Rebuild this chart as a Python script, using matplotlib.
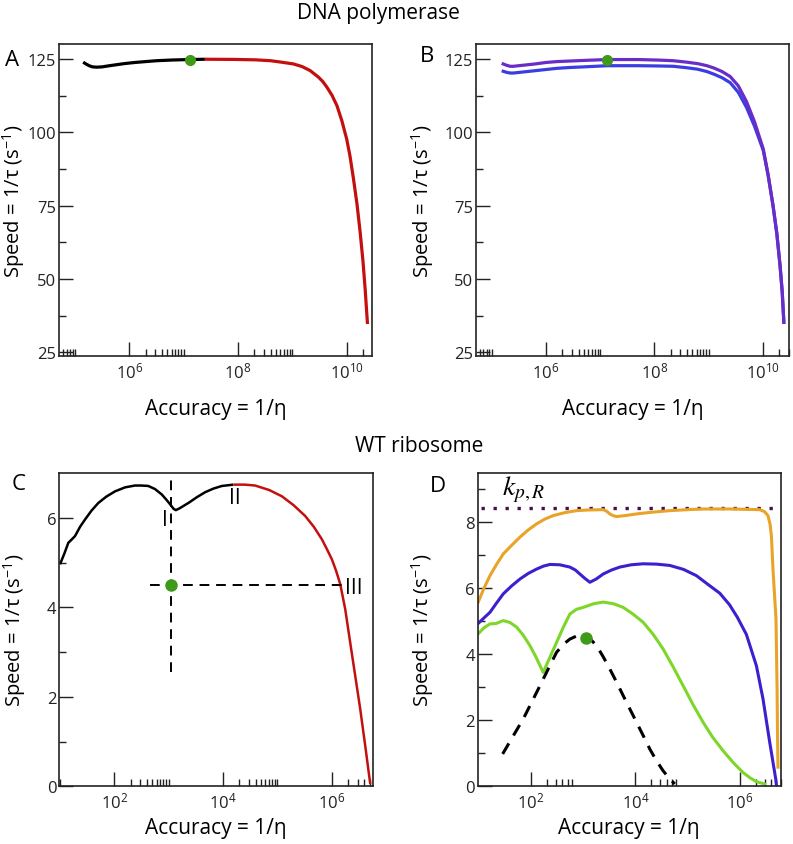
import numpy as np
import matplotlib
matplotlib.use("Agg")
import matplotlib.pyplot as plt

plt.rcParams['font.family'] = ['Open Sans', 'DejaVu Sans']
plt.rcParams['mathtext.fontset'] = 'custom'
plt.rcParams['mathtext.rm'] = 'Open Sans'
plt.rcParams['mathtext.it'] = 'Open Sans:italic'

# ---------------- data (x given as log10 of accuracy) ----------------
# panel A: DNA polymerase
a_black_lx = [5.15, 5.2, 5.26, 5.32, 5.4, 5.5, 5.6, 5.75, 5.9, 6.1, 6.3, 6.5, 6.8, 7.12, 7.39]
a_black_y = [123.9, 123.3, 122.7, 122.3, 122.2, 122.3, 122.6, 123.0, 123.4, 123.8, 124.1, 124.4, 124.65, 124.8, 124.9]
a_red_lx = [7.39, 7.9, 8.32, 8.6, 8.8, 9.02, 9.18, 9.33, 9.48, 9.56, 9.635, 9.73, 9.82, 9.91,
            10.0, 10.06, 10.125, 10.19, 10.248, 10.30, 10.34, 10.383]
a_red_y = [124.9, 124.85, 124.7, 124.4, 123.9, 123.3, 122.4, 121.0, 118.8, 117.3, 115.4, 112.6, 109.1, 104.0,
           97.7, 92.0, 84.1, 75.5, 65.9, 56.0, 46.5, 34.6]
a_dot = (7.12, 124.8)

# panel B: two variants
b_lx = [5.21, 5.28, 5.34, 5.40, 5.5, 5.65, 5.8, 6.0, 6.2, 6.45, 6.7, 7.13, 7.7, 8.1, 8.35, 8.6, 8.8, 8.97,
        9.1, 9.25, 9.4, 9.55, 9.7, 9.85, 10.01, 10.1, 10.19, 10.26, 10.32, 10.36, 10.39]
b_purple_y = [123.3, 122.8, 122.5, 122.5, 122.7, 123.0, 123.3, 123.8, 124.1, 124.3, 124.5, 124.8, 124.8, 124.6,
              124.4, 123.9, 123.4, 122.7, 121.9, 120.7, 119.0, 115.8, 110.5, 103.5, 94.3, 85.5, 75.0, 65.5,
              54.5, 45.5, 35.2]
b_blue_y = [120.8, 120.4, 120.2, 120.2, 120.4, 120.7, 121.0, 121.4, 121.8, 122.1, 122.3, 122.7, 122.7, 122.6,
            122.5, 122.0, 121.5, 120.7, 119.8, 118.6, 116.9, 113.6, 108.5, 102.0, 93.8, 85.3, 75.0, 65.5,
            54.5, 45.5, 35.2]
b_dot = (7.13, 124.8)

# panel C: WT ribosome
c_black_lx = [1.0, 1.08, 1.153, 1.22, 1.276, 1.37, 1.46, 1.58, 1.705, 1.85, 2.013, 2.2, 2.381, 2.5, 2.626,
              2.75, 2.873, 2.96, 3.027, 3.09, 3.131, 3.2, 3.28, 3.363, 3.52, 3.67, 3.82, 3.978, 4.191]
c_black_y = [4.96, 5.2, 5.44, 5.52, 5.59, 5.8, 5.96, 6.16, 6.33, 6.47, 6.59, 6.68, 6.72, 6.72, 6.71,
             6.64, 6.52, 6.40, 6.30, 6.2, 6.17, 6.21, 6.27, 6.33, 6.46, 6.57, 6.65, 6.71, 6.74]
c_red_lx = [4.191, 4.4, 4.591, 4.85, 5.083, 5.3, 5.512, 5.67, 5.819, 5.92, 6.004, 6.08, 6.157, 6.249,
            6.341, 6.433, 6.525, 6.617, 6.71]
c_red_y = [6.74, 6.74, 6.72, 6.62, 6.48, 6.28, 6.04, 5.80, 5.52, 5.28, 5.07, 4.82, 4.52, 3.96,
           3.21, 2.47, 1.73, 0.91, 0.05]
c_dot = (3.044, 4.5)
c_vline = (3.044, 2.55, 6.86)
c_hline = (4.5, 2.66, 6.22)

# panel D
d_orange_lx = [0.99, 1.1, 1.215, 1.34, 1.47, 1.63, 1.79, 1.95, 2.108, 2.26, 2.426, 2.65, 2.873, 3.1, 3.382,
               3.45, 3.51, 3.57, 3.638, 3.8, 4.02, 4.3, 4.657, 5.0, 5.294, 5.8, 6.378, 6.47, 6.536, 6.575,
               6.602, 6.632, 6.69, 6.71, 6.72, 6.728]
d_orange_y = [5.58, 6.0, 6.38, 6.72, 7.04, 7.3, 7.55, 7.77, 7.95, 8.09, 8.2, 8.29, 8.35, 8.37, 8.38,
              8.33, 8.25, 8.2, 8.17, 8.2, 8.25, 8.3, 8.35, 8.38, 8.40, 8.4, 8.38, 8.32, 8.2, 7.95,
              7.59, 6.58, 5.07, 3.0, 1.5, 0.58]
d_indigo_lx = [1.0, 1.1, 1.215, 1.34, 1.47, 1.63, 1.79, 1.95, 2.108, 2.24, 2.362, 2.55, 2.745, 2.85, 2.936,
               3.03, 3.127, 3.25, 3.382, 3.54, 3.70, 3.92, 4.146, 4.4, 4.657, 4.92, 5.167, 5.4, 5.613, 5.8,
               5.95, 6.123, 6.315, 6.441, 6.57, 6.63, 6.685, 6.70]
d_indigo_y = [4.95, 5.1, 5.27, 5.55, 5.83, 6.07, 6.28, 6.45, 6.58, 6.67, 6.72, 6.71, 6.64, 6.55, 6.43,
              6.3, 6.18, 6.28, 6.43, 6.55, 6.64, 6.71, 6.74, 6.73, 6.69, 6.57, 6.38, 6.1, 5.85, 5.5,
              5.12, 4.6, 3.65, 2.65, 1.33, 0.75, 0.22, 0.0]
d_lime_lx = [0.99, 1.1, 1.215, 1.33, 1.47, 1.6, 1.726, 1.85, 1.98, 2.1, 2.234, 2.36, 2.49, 2.62, 2.745,
             2.87, 3.0, 3.2, 3.382, 3.58, 3.764, 3.95, 4.146, 4.34, 4.529, 4.72, 4.911, 5.1, 5.294, 5.48,
             5.676, 5.87, 6.058, 6.19, 6.315, 6.474]
d_lime_y = [4.62, 4.8, 4.92, 4.93, 5.02, 4.96, 4.82, 4.58, 4.26, 3.9, 3.45, 3.9, 4.36, 4.82, 5.22,
            5.36, 5.42, 5.53, 5.58, 5.53, 5.42, 5.22, 4.97, 4.6, 4.16, 3.62, 3.05, 2.48, 1.94, 1.48,
            1.08, 0.72, 0.42, 0.26, 0.14, 0.07]
d_dash_lx = [1.458, 1.65, 1.852, 2.03, 2.204, 2.35, 2.49, 2.62, 2.745, 2.87, 3.0, 3.13, 3.255, 3.38, 3.51,
             3.64, 3.764, 3.89, 4.02, 4.15, 4.274, 4.4, 4.529, 4.64, 4.752]
d_dash_y = [0.98, 1.5, 2.04, 2.6, 3.15, 3.62, 4.06, 4.3, 4.46, 4.55, 4.58, 4.47, 4.26, 3.93, 3.55,
            3.15, 2.75, 2.35, 1.94, 1.53, 1.13, 0.78, 0.47, 0.25, 0.07]
d_dot = (3.051, 4.5)
d_kpR = 8.42

RED = '#c40f0f'
GREEN = '#3f9a1a'
PURPLE = '#6a2cc8'
BLUE = '#3a3ee0'
INDIGO = '#3d1fd0'
ORANGE = '#e8a328'
LIME = '#7fd62a'

W, H = 793, 845
fig = plt.figure(figsize=(W / 100, H / 100), dpi=100)


def add_ax(x0, y0, x1, y1):
    return fig.add_axes([x0 / W, 1 - y1 / H, (x1 - x0) / W, (y1 - y0) / H])


def style(ax, xlim, ylim, exps, mult, ymaj, ymin):
    ax.set_xscale('log')
    major = [10.0 ** e for e in exps]
    minor = [k * 10.0 ** e for e in exps for k in mult]
    ax.set_xticks(major)
    ax.set_xticklabels(['10$^{%d}$' % e for e in exps])
    ax.set_xticks(minor, minor=True)
    ax.set_xticklabels([], minor=True)
    ax.set_yticks(ymaj)
    ax.set_yticks(ymin, minor=True)
    ax.set_xlim(10 ** xlim[0], 10 ** xlim[1])
    ax.set_ylim(*ylim)
    ax.tick_params(which='both', direction='in', labelsize=12, width=1.0, colors='#222222')
    ax.tick_params(which='major', length=10)
    ax.tick_params(which='minor', length=5)
    ax.tick_params(axis='x', pad=4)
    ax.tick_params(axis='y', pad=2)
    for s in ax.spines.values():
        s.set_linewidth(1.2)
        s.set_color('#222222')


def lx(v):
    return [10 ** t for t in v]


ylab = 'Speed = 1/\u03c4 (s$^{-1}$)'
xlab = 'Accuracy = 1/\u03b7'
LAB = 14.5

# ---- A ----
axA = add_ax(59, 45, 372, 357)
style(axA, (4.705, 10.466), (23.7, 130.1), [4, 6, 8, 10], range(2, 11),
      [25, 50, 75, 100, 125], [37.5, 62.5, 87.5, 112.5])
axA.plot(lx(a_black_lx), a_black_y, color='black', lw=2.3, solid_capstyle='butt')
axA.plot(lx(a_red_lx), a_red_y, color=RED, lw=2.3, solid_capstyle='butt')
axA.plot(10 ** a_dot[0], a_dot[1], 'o', color=GREEN, ms=7)
axA.set_ylabel(ylab, fontsize=LAB)
axA.set_xlabel(xlab, fontsize=15)
axA.yaxis.set_label_coords(-0.101, 0.5)
axA.xaxis.set_label_coords(0.5, -0.135)

# ---- B ----
axB = add_ax(475.7, 45, 789, 357)
style(axB, (4.703, 10.485), (23.7, 130.1), [4, 6, 8, 10], range(2, 11),
      [25, 50, 75, 100, 125], [37.5, 62.5, 87.5, 112.5])
axB.plot(lx(b_lx), b_blue_y, color=BLUE, lw=2.3)
axB.plot(lx(b_lx), b_purple_y, color=PURPLE, lw=2.3)
axB.plot(10 ** b_dot[0], b_dot[1], 'o', color=GREEN, ms=7)
axB.set_ylabel(ylab, fontsize=LAB)
axB.set_xlabel(xlab, fontsize=15)
axB.yaxis.set_label_coords(-0.128, 0.5)
axB.xaxis.set_label_coords(0.5, -0.135)

# ---- C ----
axC = add_ax(59.3, 474, 373.3, 787.3)
style(axC, (0.987, 6.766), (0, 7), [0, 2, 4, 6], range(2, 11), [0, 2, 4, 6], [1, 3, 5])
axC.plot(lx(c_black_lx), c_black_y, color='black', lw=1.8, solid_capstyle='butt')
axC.plot(lx(c_red_lx), c_red_y, color=RED, lw=1.8, solid_capstyle='butt')
axC.plot([10 ** c_vline[0]] * 2, c_vline[1:], color='black', lw=1.4, dashes=(5, 3.5))
axC.plot([10 ** c_hline[1], 10 ** c_hline[2]], [c_hline[0]] * 2, color='black', lw=1.4, dashes=(5, 3.5))
axC.plot(10 ** c_dot[0], c_dot[1], 'o', color=GREEN, ms=8)
axC.text(10 ** 2.935, 5.96, 'I', fontsize=15, ha='center', va='center')
axC.text(10 ** 4.22, 6.45, 'II', fontsize=15, ha='center', va='center')
axC.text(10 ** 6.40, 4.44, 'III', fontsize=15, ha='center', va='center')
axC.set_ylabel(ylab, fontsize=LAB)
axC.set_xlabel(xlab, fontsize=15)
axC.yaxis.set_label_coords(-0.101, 0.5)
axC.xaxis.set_label_coords(0.5, -0.098)

# ---- D ----
axD = add_ax(477.7, 474, 780.7, 787.3)
style(axD, (0.98, 6.78), (0, 9.49), [0, 2, 4, 6], range(2, 7), [0, 2, 4, 6, 8], [1, 3, 5, 7, 9])
axD.plot([10 ** 1.05, 10 ** 6.74], [d_kpR, d_kpR], color='#4a0f4a', lw=2.4, ls=(0, (1, 2.6)))
axD.plot(lx(d_orange_lx), d_orange_y, color=ORANGE, lw=2.2)
axD.plot(lx(d_indigo_lx), d_indigo_y, color=INDIGO, lw=2.2)
axD.plot(lx(d_lime_lx), d_lime_y, color=LIME, lw=2.2)
axD.plot(lx(d_dash_lx), d_dash_y, color='black', lw=2.2, dashes=(4, 3))
axD.plot(10 ** d_dot[0], d_dot[1], 'o', color=GREEN, ms=8)
axD.text(10 ** 1.86, 9.0, '$k_{p,R}$', fontsize=20, ha='center', va='center', math_fontfamily='stix')
axD.set_ylabel(ylab, fontsize=LAB)
axD.set_xlabel(xlab, fontsize=15)
axD.yaxis.set_label_coords(-0.138, 0.5)
axD.xaxis.set_label_coords(0.5, -0.098)

# ---- titles and panel letters ----
fig.text(378 / W, 1 - 13 / H, 'DNA polymerase', fontsize=15, ha='center', va='center')
fig.text(419 / W, 1 - 447 / H, 'WT ribosome', fontsize=15, ha='center', va='center')
fig.text(12 / W, 1 - 60 / H, 'A', fontsize=16, ha='center', va='center')
fig.text(427 / W, 1 - 57 / H, 'B', fontsize=16, ha='center', va='center')
fig.text(19 / W, 1 - 485 / H, 'C', fontsize=16, ha='center', va='center')
fig.text(438 / W, 1 - 487 / H, 'D', fontsize=16, ha='center', va='center')

fig.savefig('out.png', dpi=100)
